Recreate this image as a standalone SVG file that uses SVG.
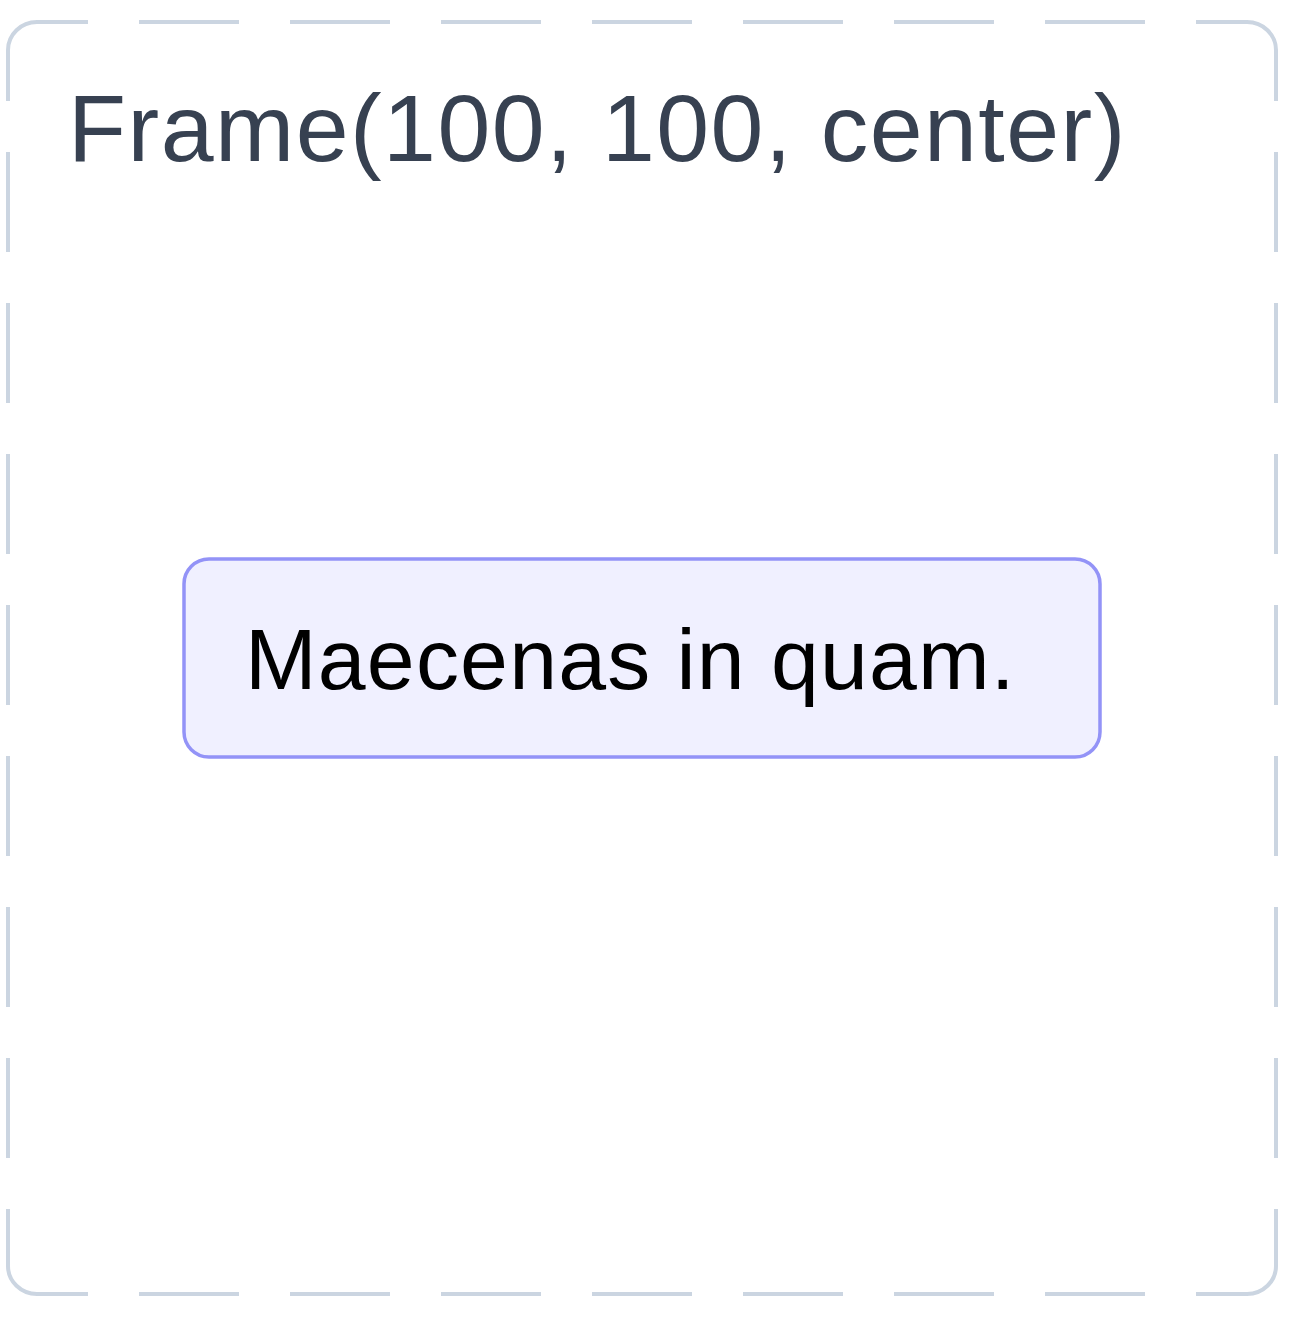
<svg xmlns="http://www.w3.org/2000/svg" width="1302" height="1324" viewBox="0 0 1302 1324">
  <style>
    .frame-edge { fill: none; stroke: #cbd5e1; stroke-width: 4; stroke-dasharray: 100 51; }
    .frame-corner { fill: none; stroke: #cbd5e1; stroke-width: 4; }
    .frame-title { font-family: "Liberation Sans", Arial, sans-serif; font-size: 95px; fill: #374151; letter-spacing: 1.5px; }
    .node-box { fill: #f0f0ff; stroke: #9393f7; stroke-width: 3.5; }
    .node-label { font-family: "Liberation Sans", Arial, sans-serif; font-size: 86px; fill: #000000; letter-spacing: 1.2px; }
  </style>
  <rect width="1302" height="1324" fill="#ffffff"/>
  <g id="frame">
    <line class="frame-edge" x1="36" y1="22" x2="1248" y2="22" stroke-dashoffset="48"/>
    <line class="frame-edge" x1="36" y1="1294" x2="1248" y2="1294" stroke-dashoffset="48"/>
    <line class="frame-edge" x1="8" y1="50" x2="8" y2="1266" stroke-dashoffset="49"/>
    <line class="frame-edge" x1="1276" y1="50" x2="1276" y2="1266" stroke-dashoffset="49"/>
    <path class="frame-corner" d="M 37 22 A 29 28 0 0 0 8 50"/>
    <path class="frame-corner" d="M 1247 22 A 29 28 0 0 1 1276 50"/>
    <path class="frame-corner" d="M 8 1266 A 29 28 0 0 0 37 1294"/>
    <path class="frame-corner" d="M 1276 1266 A 29 28 0 0 1 1247 1294"/>
    <text class="frame-title" x="68" y="161">Frame(100, 100, center)</text>
  </g>
  <g id="connectors"></g>
  <g id="node-1">
    <rect class="node-box" x="184" y="559" width="916" height="198" rx="25" ry="25"/>
    <text class="node-label" x="245" y="689">Maecenas in quam.</text>
  </g>
</svg>
